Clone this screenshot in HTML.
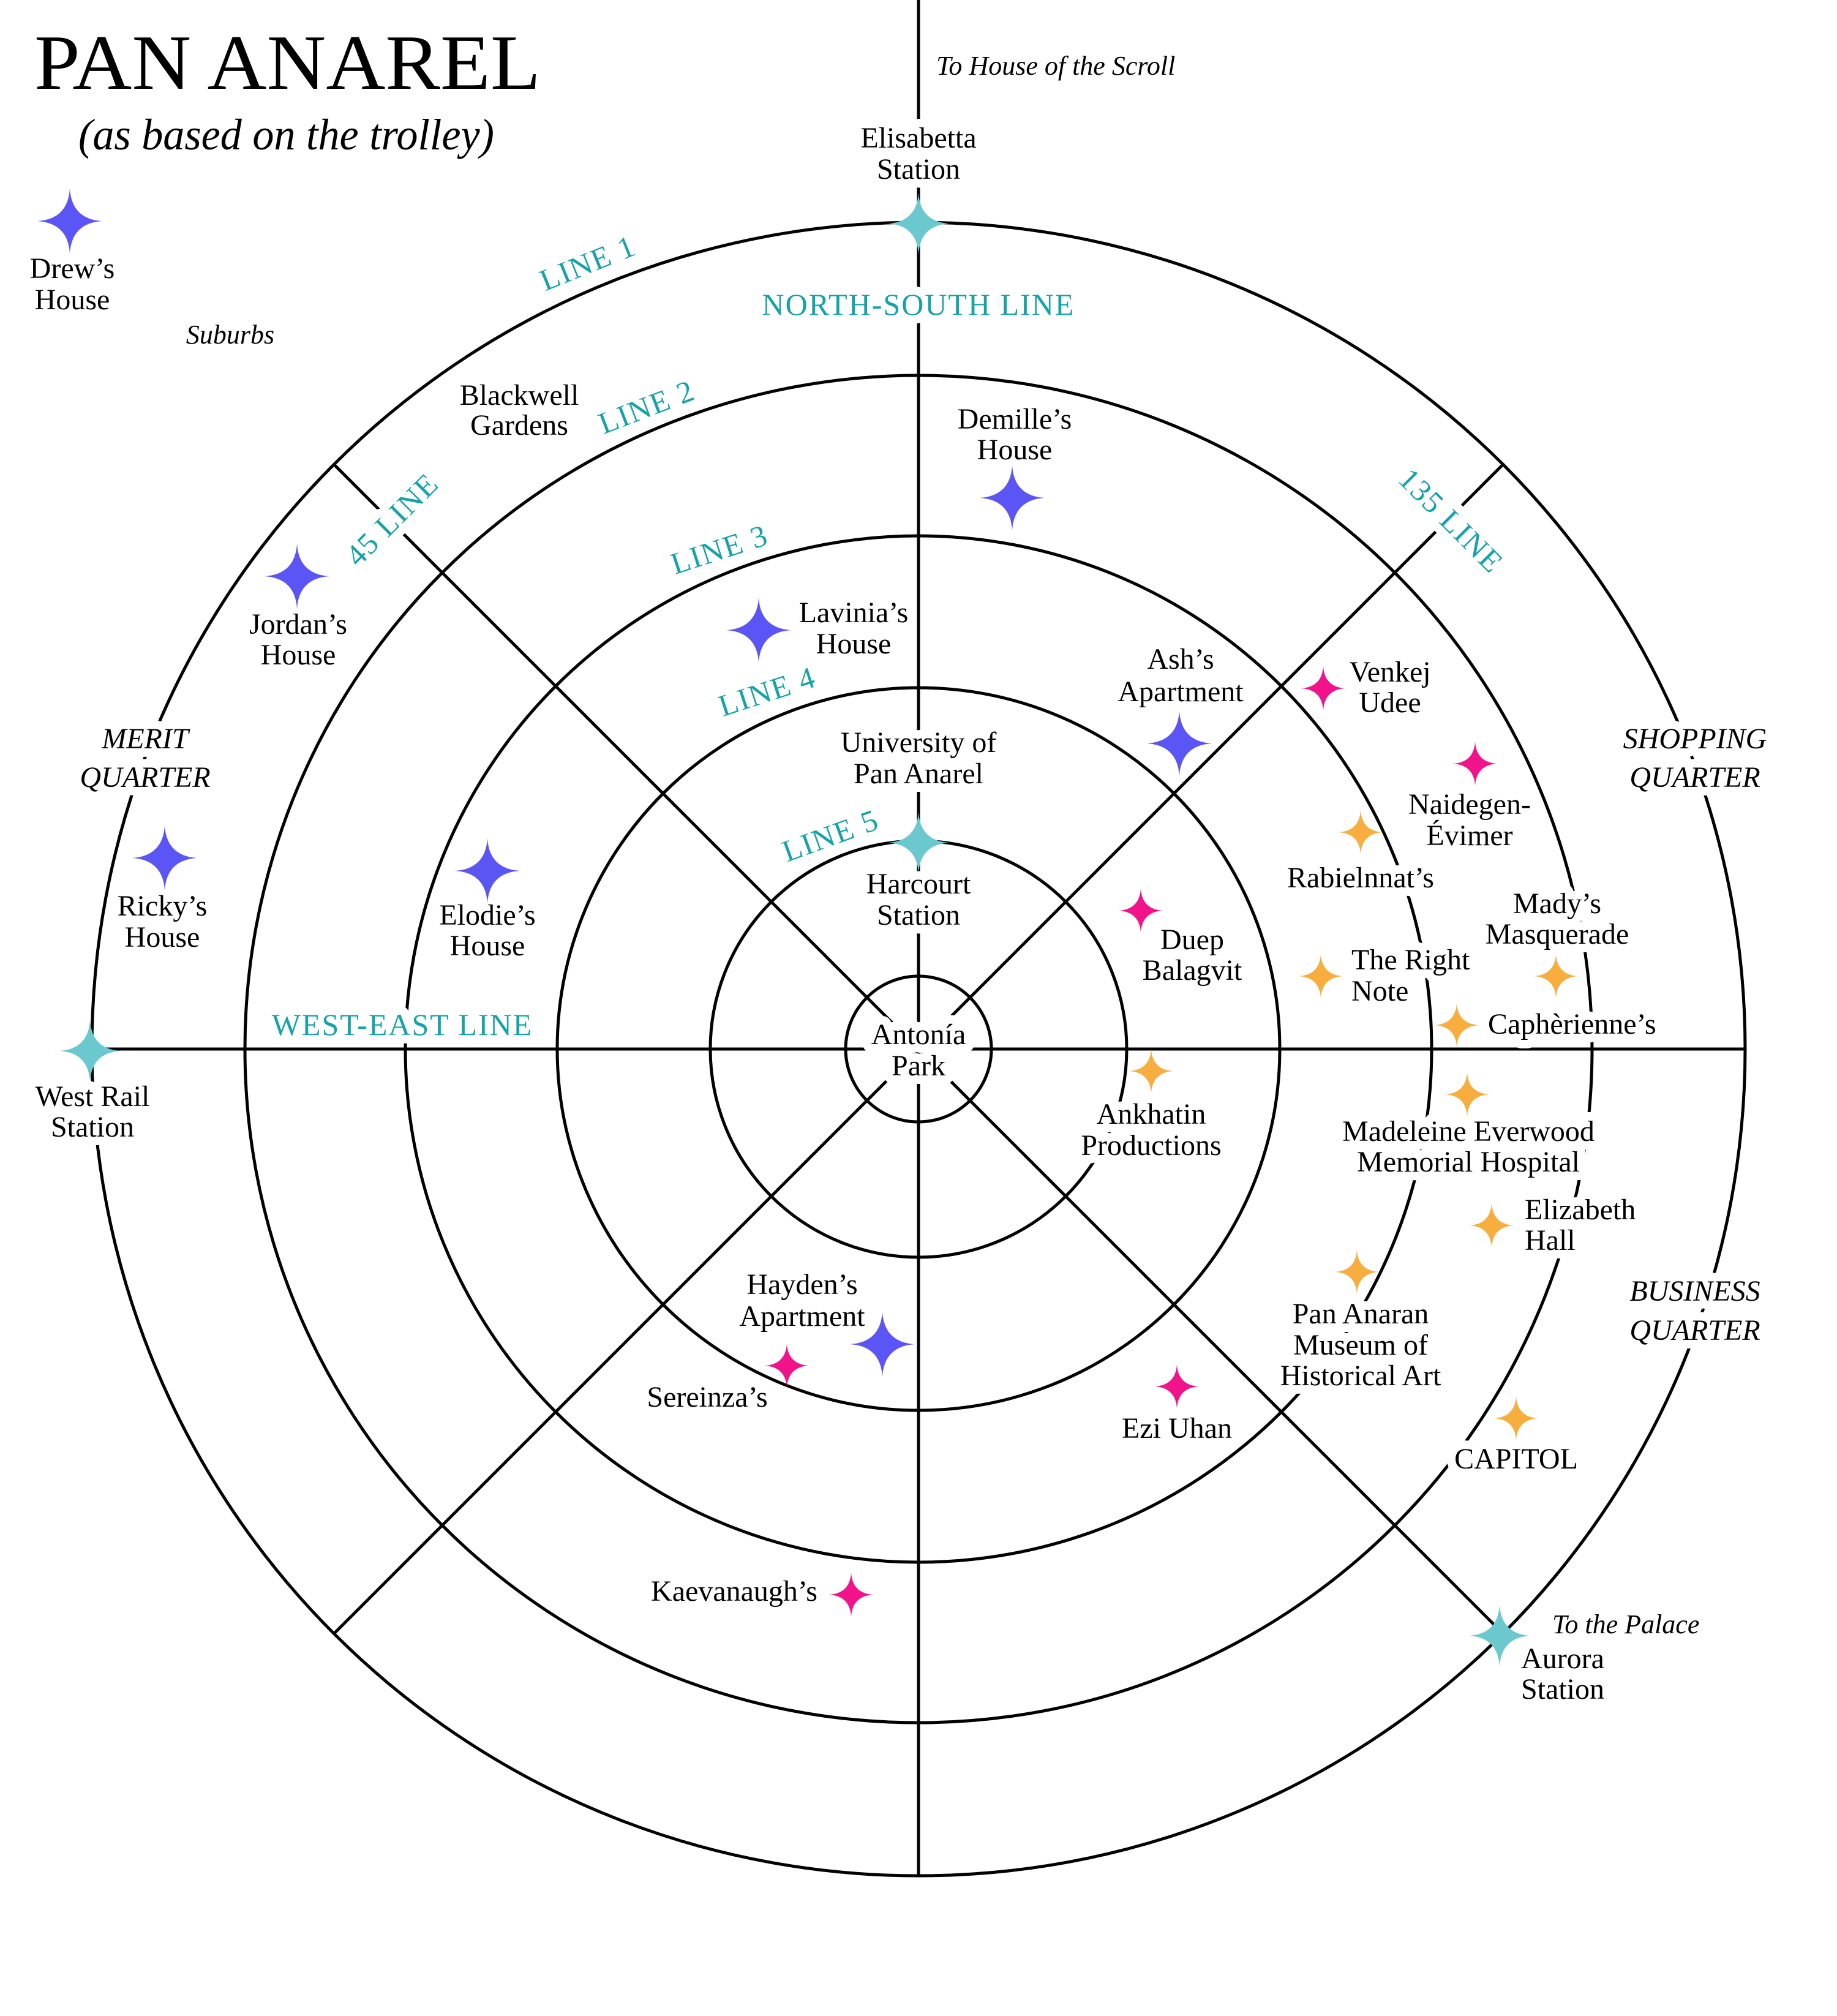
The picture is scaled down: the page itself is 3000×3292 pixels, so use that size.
<!DOCTYPE html>
<html><head><meta charset="utf-8"><style>
html,body{margin:0;padding:0;background:#fff;}
svg{display:block;}
text{font-family:"Liberation Serif",serif;}
.l{font-size:48px;text-anchor:middle;}
.s{font-size:48px;text-anchor:start;}
.t{font-size:50px;text-anchor:middle;letter-spacing:2px;}
.i{font-size:44px;font-style:italic;}
.q{font-size:48px;font-style:italic;text-anchor:middle;}
</style></head><body>
<svg width="3000" height="3292" viewBox="0 0 3000 3292" xmlns="http://www.w3.org/2000/svg">
<defs>
<path id="s" d="M0,-1 Q0.06,-0.06 1,0 Q0.06,0.06 0,1 Q-0.06,0.06 -1,0 Q-0.06,-0.06 0,-1Z"/>
</defs>
<g fill="none" stroke="#000" stroke-width="5">
<circle cx="1500" cy="1713" r="119"/>
<circle cx="1500" cy="1713" r="340"/>
<circle cx="1500" cy="1713" r="590"/>
<circle cx="1500" cy="1713" r="838"/>
<circle cx="1500" cy="1713" r="1100"/>
<circle cx="1500" cy="1713" r="1350"/>
<line x1="1500" y1="0" x2="1500" y2="3063"/>
<line x1="150" y1="1713" x2="2850" y2="1713"/>
<line x1="545" y1="758" x2="2455" y2="2668"/>
<line x1="2455" y1="758" x2="545" y2="2668"/>
</g>

<use href="#L" fill="#fff" stroke="#fff" stroke-width="28" stroke-linejoin="round"/>

<g id="L">
<text x="1529" y="122" class="i">To House of the Scroll</text>
<text x="2535" y="2667" class="i">To the Palace</text>
<text x="376" y="561" class="i" text-anchor="middle">Suburbs</text>

<g fill="#14a3a8">
<text class="t" x="1500" y="514">NORTH-SOUTH LINE</text>
<text class="t" x="657" y="1690">WEST-EAST LINE</text>
<text class="t" transform="translate(966,445) rotate(-22)">LINE 1</text>
<text class="t" transform="translate(1062,680) rotate(-21)">LINE 2</text>
<text class="t" transform="translate(1180,913) rotate(-18)">LINE 3</text>
<text class="t" transform="translate(1258,1145) rotate(-18)">LINE 4</text>
<text class="t" transform="translate(1362,1380) rotate(-20)">LINE 5</text>
<text class="t" transform="translate(652,860) rotate(-45)">45 LINE</text>
<text class="t" transform="translate(2358,862) rotate(45)">135 LINE</text>
</g>

<text class="q" x="237" y="1222">MERIT</text><text class="q" x="237" y="1285">QUARTER</text>
<text class="q" x="2768" y="1222">SHOPPING</text><text class="q" x="2768" y="1285">QUARTER</text>
<text class="q" x="2768" y="2124">BUSINESS</text><text class="q" x="2768" y="2188">QUARTER</text>

<text class="l" x="118" y="454">Drew’s</text><text class="l" x="118" y="505">House</text>
<text class="l" x="848" y="661">Blackwell</text><text class="l" x="848" y="710">Gardens</text>
<text class="l" x="1500" y="241">Elisabetta</text><text class="l" x="1500" y="292">Station</text>
<text class="l" x="1657" y="700">Demille’s</text><text class="l" x="1657" y="750">House</text>
<text class="l" x="487" y="1035">Jordan’s</text><text class="l" x="487" y="1085">House</text>
<text class="l" x="1394" y="1016">Lavinia’s</text><text class="l" x="1394" y="1067">House</text>
<text class="l" x="1928" y="1092">Ash’s</text><text class="l" x="1928" y="1145">Apartment</text>
<text class="l" x="265" y="1495">Ricky’s</text><text class="l" x="265" y="1546">House</text>
<text class="l" x="796" y="1510">Elodie’s</text><text class="l" x="796" y="1560">House</text>
<text class="l" x="1310" y="2113">Hayden’s</text><text class="l" x="1310" y="2165">Apartment</text>
<text class="l" x="1500" y="1228">University of</text><text class="l" x="1500" y="1279">Pan Anarel</text>
<text class="l" x="1500" y="1459">Harcourt</text><text class="l" x="1500" y="1510">Station</text>
<text class="l" x="151" y="1806">West Rail</text><text class="l" x="151" y="1856">Station</text>
<text class="l" x="2552" y="2724">Aurora</text><text class="l" x="2552" y="2774">Station</text>
<text class="l" x="1500" y="1705">Antonía</text><text class="l" x="1500" y="1756">Park</text>
<text class="l" x="2270" y="1113">Venkej</text><text class="l" x="2270" y="1163">Udee</text>
<text class="l" x="2400" y="1329">Naidegen-</text><text class="l" x="2400" y="1380">Évimer</text>
<text class="l" x="1947" y="1550">Duep</text><text class="l" x="1947" y="1600">Balagvit</text>
<text class="l" x="1155" y="2297">Sereinza’s</text>
<text class="l" x="1922" y="2348">Ezi Uhan</text>
<text class="l" x="1199" y="2614">Kaevanaugh’s</text>
<text class="l" x="2222" y="1449">Rabielnnat’s</text>
<text class="s" x="2207" y="1583">The Right</text><text class="s" x="2207" y="1634">Note</text>
<text class="l" x="2543" y="1491">Mady’s</text><text class="l" x="2543" y="1541">Masquerade</text>
<text class="s" x="2430" y="1688">Caphèrienne’s</text>
<text class="l" x="2398" y="1863">Madeleine Everwood</text><text class="l" x="2398" y="1913">Memorial Hospital</text>
<text class="l" x="1880" y="1835">Ankhatin</text><text class="l" x="1880" y="1886">Productions</text>
<text class="s" x="2490" y="1991">Elizabeth</text><text class="s" x="2490" y="2041">Hall</text>
<text class="l" x="2222" y="2161">Pan Anaran</text><text class="l" x="2222" y="2212">Museum of</text><text class="l" x="2222" y="2262">Historical Art</text>
<text class="l" x="2476" y="2398">CAPITOL</text>
</g>

<text x="56" y="145" font-size="128" textLength="827" lengthAdjust="spacingAndGlyphs">PAN ANAREL</text>
<text x="128" y="244" font-size="72" font-style="italic" textLength="679" lengthAdjust="spacingAndGlyphs">(as based on the trolley)</text>

<g fill="#5b55f6">
<use href="#s" transform="translate(114,361) scale(53)"/>
<use href="#s" transform="translate(1653,813) scale(53)"/>
<use href="#s" transform="translate(485,941) scale(53)"/>
<use href="#s" transform="translate(1239,1029) scale(53)"/>
<use href="#s" transform="translate(1926,1214) scale(53)"/>
<use href="#s" transform="translate(269,1401) scale(53)"/>
<use href="#s" transform="translate(796,1422) scale(53)"/>
<use href="#s" transform="translate(1441,2195) scale(53)"/>
</g>
<g fill="#6cc8cf">
<use href="#s" transform="translate(1500,365) scale(50)"/>
<use href="#s" transform="translate(1500,1376) scale(50)"/>
<use href="#s" transform="translate(147,1716) scale(50)"/>
<use href="#s" transform="translate(2449,2671) scale(50)"/>
</g>
<g fill="#f2138a">
<use href="#s" transform="translate(2161,1124) scale(36)"/>
<use href="#s" transform="translate(2409,1247) scale(36)"/>
<use href="#s" transform="translate(1863,1487) scale(36)"/>
<use href="#s" transform="translate(1285,2230) scale(36)"/>
<use href="#s" transform="translate(1922,2264) scale(36)"/>
<use href="#s" transform="translate(1390,2604) scale(36)"/>
</g>
<g fill="#f7ae3e">
<use href="#s" transform="translate(2222,1359) scale(36)"/>
<use href="#s" transform="translate(2157,1594) scale(36)"/>
<use href="#s" transform="translate(2541,1594) scale(36)"/>
<use href="#s" transform="translate(2379,1674) scale(36)"/>
<use href="#s" transform="translate(2396,1787) scale(36)"/>
<use href="#s" transform="translate(1880,1749) scale(36)"/>
<use href="#s" transform="translate(2436,2001) scale(36)"/>
<use href="#s" transform="translate(2216,2077) scale(36)"/>
<use href="#s" transform="translate(2476,2316) scale(36)"/>
</g>
</svg>
</body></html>
